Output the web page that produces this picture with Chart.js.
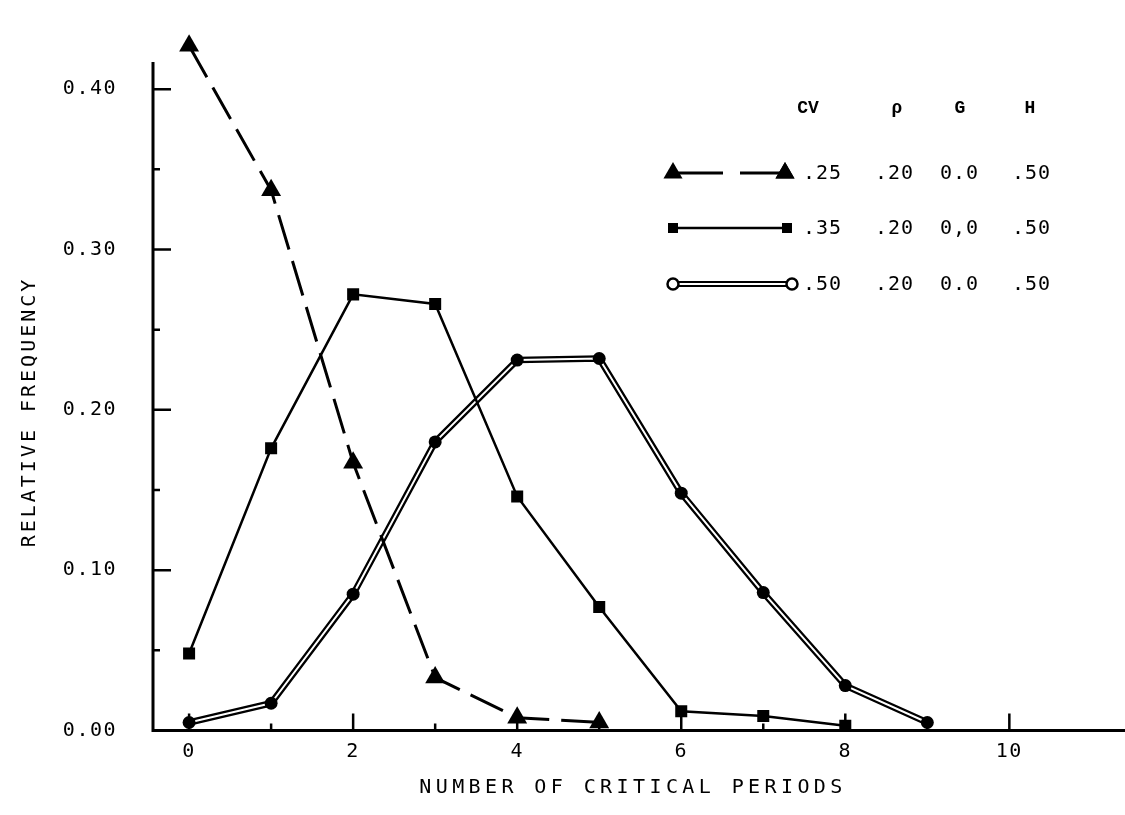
<!DOCTYPE html>
<html>
<head>
<meta charset="utf-8">
<title>Relative frequency of critical periods</title>
<script src="https://cdn.jsdelivr.net/npm/chart.js@4/dist/chart.umd.min.js"></script>
<style>
  html, body { margin: 0; padding: 0; background: #fff; }
  #wrap { width: 1125px; height: 815px; }
</style>
</head>
<body>
<div id="wrap"><canvas id="periodsChart" width="1125" height="815"></canvas></div>
<script>
// number of critical periods and the relative frequency for each CV run
const periods = [0, 1, 2, 3, 4, 5, 6, 7, 8, 9];
const freqCv25 = [0.427, 0.337, 0.167, 0.033, 0.008, 0.005];
const freqCv35 = [0.048, 0.176, 0.272, 0.266, 0.146, 0.077, 0.012, 0.009, 0.003];
const freqCv50 = [0.005, 0.017, 0.085, 0.180, 0.231, 0.232, 0.148, 0.086, 0.028, 0.005];

// axis ticks
const xTickLabels = [0, 2, 4, 6, 8, 10];
const xMinorTicks = [1, 3, 5, 7, 9];
const yTickLabels = [0, 0.1, 0.2, 0.3, 0.4];
const yMinorTicks = [0.05, 0.15, 0.25, 0.35];
const yAxisTop = 0.417;

// key table in the upper right
const keyHeaders = ['CV', 'ρ', 'G', 'H'];
const keyCv = ['.25', '.35', '.50'];
const keyRho = ['.20', '.20', '.20'];
const keyG = ['0.0', '0,0', '0.0'];
const keyH = ['.50', '.50', '.50'];

const MONO = "'DejaVu Sans Mono', monospace";
const toPoints = ys => ys.map((y, i) => ({ x: periods[i], y: y }));

// typewriter style axes: inward ticks, spaced-out titles and the key
const paperAxes = {
    id: 'paperAxes',
    beforeUpdate(chart) {
        chart.ctx.letterSpacing = '1.5px';
    },
    beforeDraw(chart) {
        chart.ctx.letterSpacing = '1.5px';
    },
    afterDraw(chart) {
        const ctx = chart.ctx;
        const xs = chart.scales.x;
        const ys = chart.scales.y;
        const left = chart.chartArea.left;
        const bottom = chart.chartArea.bottom;

        ctx.save();
        ctx.strokeStyle = '#000';

        // vertical axis stops a little above 0.40
        ctx.lineWidth = 3;
        ctx.beginPath();
        ctx.moveTo(left, bottom + 1.5);
        ctx.lineTo(left, ys.getPixelForValue(yAxisTop));
        ctx.stroke();

        ctx.lineWidth = 2.5;
        ctx.beginPath();
        yTickLabels.forEach(v => {
            const py = ys.getPixelForValue(v);
            ctx.moveTo(left, py);
            ctx.lineTo(left + 18, py);
        });
        yMinorTicks.forEach(v => {
            const py = ys.getPixelForValue(v);
            ctx.moveTo(left, py);
            ctx.lineTo(left + 7, py);
        });
        xTickLabels.forEach(v => {
            const px = xs.getPixelForValue(v);
            ctx.moveTo(px, bottom);
            ctx.lineTo(px, bottom - 17);
        });
        xMinorTicks.forEach(v => {
            const px = xs.getPixelForValue(v);
            ctx.moveTo(px, bottom);
            ctx.lineTo(px, bottom - 7);
        });
        ctx.stroke();

        // axis titles
        ctx.fillStyle = '#000';
        ctx.font = '20px ' + MONO;
        ctx.textAlign = 'center';
        ctx.textBaseline = 'middle';
        ctx.letterSpacing = '4.4px';
        ctx.fillText('NUMBER OF CRITICAL PERIODS', 633, 788);
        ctx.save();
        ctx.translate(30, 412);
        ctx.rotate(-Math.PI / 2);
        ctx.letterSpacing = '3px';
        ctx.fillText('RELATIVE FREQUENCY', 0, 0);
        ctx.restore();

        // key headers
        ctx.letterSpacing = '0px';
        ctx.font = "bold 18px 'Liberation Mono', monospace";
        ctx.textBaseline = 'alphabetic';
        const headerX = [808, 897, 960, 1030];
        keyHeaders.forEach((h, i) => ctx.fillText(h, headerX[i], 113));

        // key rows
        const rowY = [173, 228, 284];
        const colX = [803, 875, 940, 1012];
        ctx.font = '20px ' + MONO;
        ctx.letterSpacing = '1px';
        ctx.textAlign = 'left';
        ctx.textBaseline = 'middle';
        rowY.forEach((y, r) => {
            [keyCv[r], keyRho[r], keyG[r], keyH[r]].forEach((t, c) => ctx.fillText(t, colX[c], y + 1));
        });

        // key samples
        const x0 = 673, x1 = 787;
        ctx.lineCap = 'butt';
        // dashed with triangles
        ctx.lineWidth = 3;
        ctx.setLineDash([50, 17]);
        ctx.beginPath();
        ctx.moveTo(x0, rowY[0]);
        ctx.lineTo(x1 - 2, rowY[0]);
        ctx.stroke();
        ctx.setLineDash([]);
        [x0, x1 - 2].forEach(x => Chart.helpers.drawPoint(ctx, { pointStyle: 'triangle', radius: 11, borderWidth: 0 }, x, rowY[0]));
        ctx.fill();
        // solid with squares
        ctx.lineWidth = 2.5;
        ctx.beginPath();
        ctx.moveTo(x0, rowY[1]);
        ctx.lineTo(x1, rowY[1]);
        ctx.stroke();
        ctx.fillRect(x0 - 5, rowY[1] - 5, 10, 10);
        ctx.fillRect(x1 - 5, rowY[1] - 5, 10, 10);
        // double line with open circles
        ctx.lineWidth = 6;
        ctx.beginPath();
        ctx.moveTo(x0, rowY[2]);
        ctx.lineTo(x1 + 5, rowY[2]);
        ctx.stroke();
        ctx.strokeStyle = '#fff';
        ctx.lineWidth = 2;
        ctx.stroke();
        ctx.strokeStyle = '#000';
        ctx.fillStyle = '#fff';
        ctx.lineWidth = 2.5;
        [x0, x1 + 5].forEach(x => {
            ctx.beginPath();
            ctx.arc(x, rowY[2], 5.5, 0, Math.PI * 2);
            ctx.fill();
            ctx.stroke();
        });
        ctx.restore();
    }
};

const ctx = document.getElementById('periodsChart').getContext('2d');

const chart = new Chart(ctx, {
    type: 'line',
    data: {
        datasets: [
            // CV .50 outer black stroke of the double line
            {
                data: toPoints(freqCv50),
                borderColor: '#000',
                borderWidth: 6.5,
                borderJoinStyle: 'round',
                pointRadius: 0,
                order: 5
            },
            // CV .50 white core of the double line
            {
                data: toPoints(freqCv50),
                borderColor: '#fff',
                borderWidth: 2,
                borderJoinStyle: 'round',
                pointRadius: 0,
                order: 4
            },
            // CV .50 markers
            {
                data: toPoints(freqCv50),
                showLine: false,
                pointStyle: 'circle',
                pointRadius: 6.5,
                pointBackgroundColor: '#000',
                pointBorderWidth: 0,
                order: 3
            },
            // CV .35
            {
                data: toPoints(freqCv35),
                borderColor: '#000',
                borderWidth: 2.5,
                pointStyle: 'rect',
                pointRadius: 8.5,
                pointBackgroundColor: '#000',
                pointBorderWidth: 0,
                order: 2
            },
            // CV .25 dashed
            {
                data: toPoints(freqCv25),
                borderColor: '#000',
                borderWidth: 3,
                borderDash: [36, 12],
                pointStyle: 'triangle',
                pointRadius: 11.5,
                pointBackgroundColor: '#000',
                pointBorderWidth: 0,
                order: 1
            }
        ]
    },
    options: {
        responsive: false,
        animation: false,
        devicePixelRatio: 1,
        tension: 0,
        layout: {
            autoPadding: false,
            padding: { top: 17, right: 0, bottom: 0, left: 0 }
        },
        plugins: {
            legend: { display: false },
            tooltip: { enabled: false }
        },
        scales: {
            x: {
                type: 'linear',
                min: -0.44,
                max: 11.41,
                grid: { display: false, drawTicks: false },
                border: { display: true, color: '#000', width: 3 },
                ticks: {
                    color: '#000',
                    padding: 9,
                    font: { family: MONO, size: 20 },
                    callback: v => String(v)
                },
                afterBuildTicks: s => { s.ticks = xTickLabels.map(v => ({ value: v })); },
                afterFit: s => {
                    s.height = 84.5;
                    s.paddingLeft = 0;
                    s.paddingRight = 0;
                }
            },
            y: {
                type: 'linear',
                min: 0,
                max: 0.445,
                grid: { display: false, drawTicks: false },
                border: { display: false },
                ticks: {
                    color: '#000',
                    padding: 36,
                    font: { family: MONO, size: 20 },
                    callback: v => v.toFixed(2)
                },
                afterBuildTicks: s => { s.ticks = yTickLabels.map(v => ({ value: v })); },
                afterFit: s => {
                    s.width = 153;
                    s.paddingTop = 0;
                    s.paddingBottom = 0;
                }
            }
        }
    },
    plugins: [paperAxes]
});
</script>
</body>
</html>
